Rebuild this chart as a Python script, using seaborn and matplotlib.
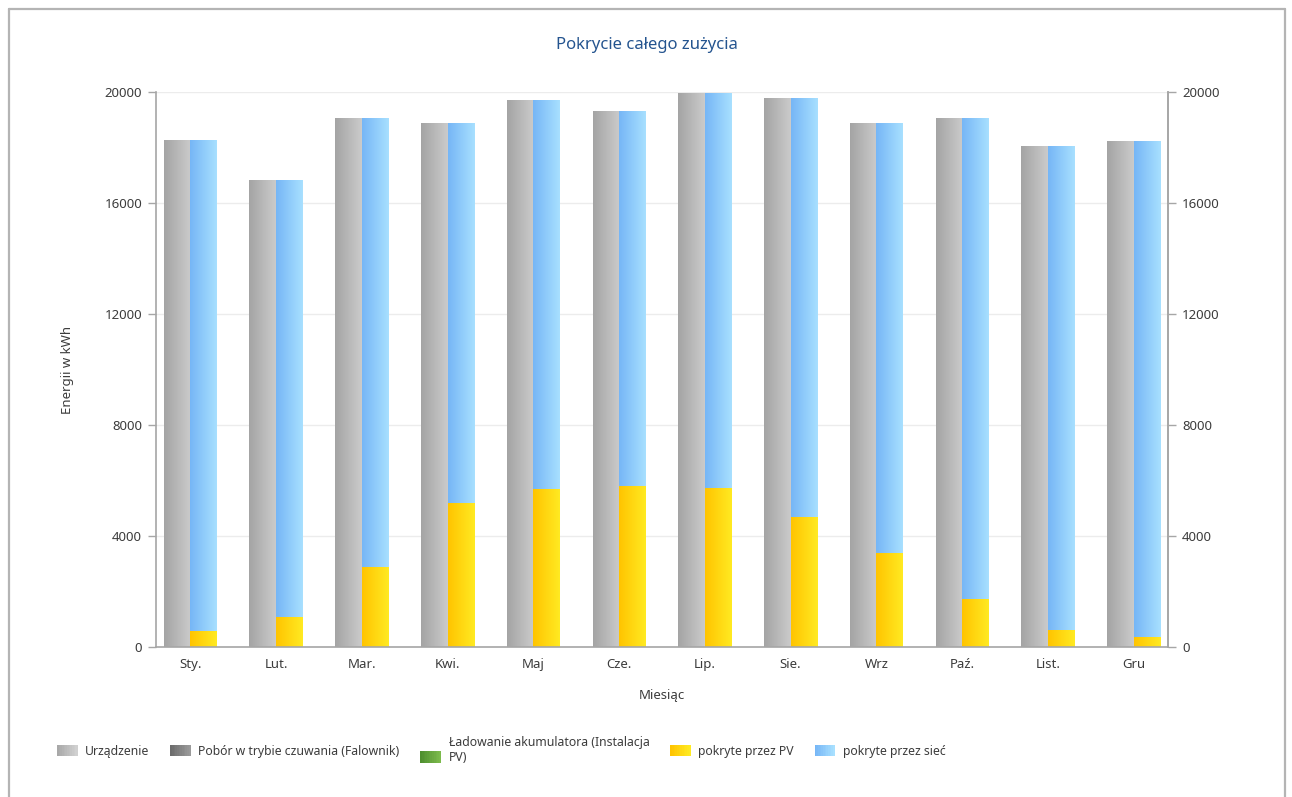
import numpy as np
import pandas as pd
import matplotlib
matplotlib.use("Agg")
import matplotlib.pyplot as plt
import seaborn as sns
from matplotlib.colors import LinearSegmentedColormap, to_rgb
from matplotlib.patches import Patch, Rectangle
from matplotlib.legend_handler import HandlerBase
from matplotlib.lines import Line2D

# Monthly energy balance (kWh)
months = ["Sty.", "Lut.", "Mar.", "Kwi.", "Maj", "Cze.",
          "Lip.", "Sie.", "Wrz", "Paź.", "List.", "Gru"]
consumption = [18270, 16800, 19060, 18880, 19710, 19280,
               19930, 19750, 18880, 19060, 18020, 18230]
covered_pv = [550, 1060, 2870, 5180, 5690, 5780,
              5720, 4670, 3380, 1700, 610, 340]
covered_grid = [c - p for c, p in zip(consumption, covered_pv)]
y_ticks = [0, 4000, 8000, 12000, 16000, 20000]

legend_labels = ["Urządzenie", "Pobór w trybie czuwania (Falownik)",
                 "Ładowanie akumulatora (Instalacja\nPV)",
                 "pokryte przez PV", "pokryte przez sieć"]

# gradient end colours (left -> right)
GRAY = ("#a4a4a4", "#cbcbcb")
BLUE = ("#76b6f6", "#a8e0ff")
YELLOW = ("#ffc400", "#ffea22")
LEG_GRAY_LIGHT = ("#a8a8a8", "#d0d0d0")
LEG_GRAY_DARK = ("#6c6c6c", "#9a9a9a")
LEG_GREEN = ("#4f8f2f", "#7cba4c")

sns.set_theme(style="white")
plt.rcParams["font.family"] = ["Noto Sans", "DejaVu Sans"]

fig = plt.figure(figsize=(12.92, 7.97), dpi=100)
ax = fig.add_axes([156 / 1292, 150 / 797, 1012 / 1292, 555 / 797])

hue_order = ["device", "cover"]
totals = pd.DataFrame({
    "month": months * 2,
    "kind": ["device"] * 12 + ["cover"] * 12,
    "value": consumption + consumption,
})
pv = pd.DataFrame({
    "month": months * 2,
    "kind": ["device"] * 12 + ["cover"] * 12,
    "value": [0] * 12 + covered_pv,
})

n0 = len(ax.patches)
sns.barplot(data=totals, x="month", y="value", hue="kind", order=months,
            hue_order=hue_order, palette=[GRAY[0], BLUE[0]], width=0.62,
            errorbar=None, linewidth=0, legend=False, ax=ax)
first = list(ax.patches[n0:])
n1 = len(ax.patches)
sns.barplot(data=pv, x="month", y="value", hue="kind", order=months,
            hue_order=hue_order, palette=[GRAY[0], YELLOW[0]], width=0.62,
            errorbar=None, linewidth=0, legend=False, ax=ax)
second = list(ax.patches[n1:])


def paint(patch, colors, z):
    """Replace a flat seaborn bar by a horizontal colour gradient."""
    x, y = patch.get_x(), patch.get_y()
    w, h = patch.get_width(), patch.get_height()
    patch.set_alpha(0)
    if not np.isfinite(h) or h <= 0:
        return
    cmap = LinearSegmentedColormap.from_list("grad", list(colors))
    grad = np.linspace(0, 1, 128).reshape(1, -1)
    ax.imshow(grad, cmap=cmap, extent=(x, x + w, y, y + h), aspect="auto",
              interpolation="bilinear", zorder=z)


def is_left(patch):
    cx = patch.get_x() + patch.get_width() / 2
    return cx < round(cx)


for p in first:
    paint(p, GRAY if is_left(p) else BLUE, 2.0)
for p in second:
    if is_left(p):
        p.set_alpha(0)
    else:
        paint(p, YELLOW, 2.1)

ax.set_xlim(-0.4, 11.4)
ax.set_ylim(0, 20000)
ax.set_yticks(y_ticks)
ax.set_yticklabels([str(t) for t in y_ticks])
ax.set_xticks(range(len(months)))
ax.set_xticklabels(months)
ax.yaxis.grid(True, color="#ececec", lw=1)
ax.set_axisbelow(True)

spine_c = "#a6a6a6"
text_c = "#3c3c3c"
ax.spines["top"].set_visible(False)
for side in ["left", "bottom", "right"]:
    ax.spines[side].set_color(spine_c)
    ax.spines[side].set_linewidth(1.2)
ax.tick_params(axis="both", which="major", length=6, width=1,
               color=spine_c, labelcolor=text_c, labelsize=9.5, pad=4)
ax.tick_params(axis="x", pad=2)

ax2 = ax.twinx()
ax2.set_ylim(0, 20000)
ax2.set_yticks(y_ticks)
ax2.set_yticklabels([str(t) for t in y_ticks])
ax2.grid(False)
for side in ["top", "left", "bottom"]:
    ax2.spines[side].set_visible(False)
ax2.spines["right"].set_color(spine_c)
ax2.spines["right"].set_linewidth(1.2)
ax2.tick_params(axis="y", length=6, width=1, color=spine_c,
                labelcolor=text_c, labelsize=9.5, pad=4)

ax.set_xlabel("")
ax.set_ylabel("")
fig.text(68 / 1292, 1 - 370 / 797, "Energii w kWh", rotation=90,
         ha="center", va="center", fontsize=9.5, color=text_c)
fig.text(662 / 1292, 1 - 695 / 797, "Miesiąc", ha="center", va="center",
         fontsize=9.5, color=text_c)
fig.text(647 / 1292, 1 - 45 / 797, "Pokrycie całego zużycia", ha="center",
         va="center", fontsize=12, color="#24548f")


class GradientPatch(Patch):
    """Legend proxy carrying the two gradient end colours."""

    def __init__(self, colors, shift=0.0):
        super().__init__(facecolor=colors[0])
        self.grad_colors = colors
        self.shift = shift


class HandlerGradient(HandlerBase):
    def create_artists(self, legend, orig_handle, xdescent, ydescent,
                       width, height, fontsize, trans):
        c0 = np.array(to_rgb(orig_handle.grad_colors[0]))
        c1 = np.array(to_rgb(orig_handle.grad_colors[1]))
        n = 12
        arts = []
        y0 = -ydescent - orig_handle.shift * fontsize
        for i in range(n):
            t = i / (n - 1)
            r = Rectangle((-xdescent + width * i / n, y0), width / n + 0.3,
                          height, facecolor=tuple(c0 + (c1 - c0) * t),
                          edgecolor="none", transform=trans)
            arts.append(r)
        return arts


leg_colors = [LEG_GRAY_LIGHT, LEG_GRAY_DARK, LEG_GREEN, YELLOW, BLUE]
shifts = [0, 0, 0.5, 0, 0]
handles = [GradientPatch(c, s) for c, s in zip(leg_colors, shifts)]
fig.legend(handles, legend_labels, loc="upper left",
           bbox_to_anchor=(57 / 1292, 1 - 736 / 797), ncol=5, frameon=False,
           fontsize=8.8, handlelength=1.65, handleheight=1.05,
           handletextpad=0.65, columnspacing=1.7, labelcolor=text_c,
           borderaxespad=0, borderpad=0,
           handler_map={GradientPatch: HandlerGradient()})

# outer frame
frame_c = "#b4b4b4"
fig.add_artist(Line2D([9 / 1292, 1285 / 1292], [1 - 9 / 797, 1 - 9 / 797],
                      color=frame_c, lw=1.6, transform=fig.transFigure))
fig.add_artist(Line2D([9 / 1292, 9 / 1292], [1 - 9 / 797, 0],
                      color=frame_c, lw=1.6, transform=fig.transFigure))
fig.add_artist(Line2D([1285 / 1292, 1285 / 1292], [1 - 9 / 797, 0],
                      color=frame_c, lw=1.6, transform=fig.transFigure))

fig.savefig("out.png", dpi=100)
